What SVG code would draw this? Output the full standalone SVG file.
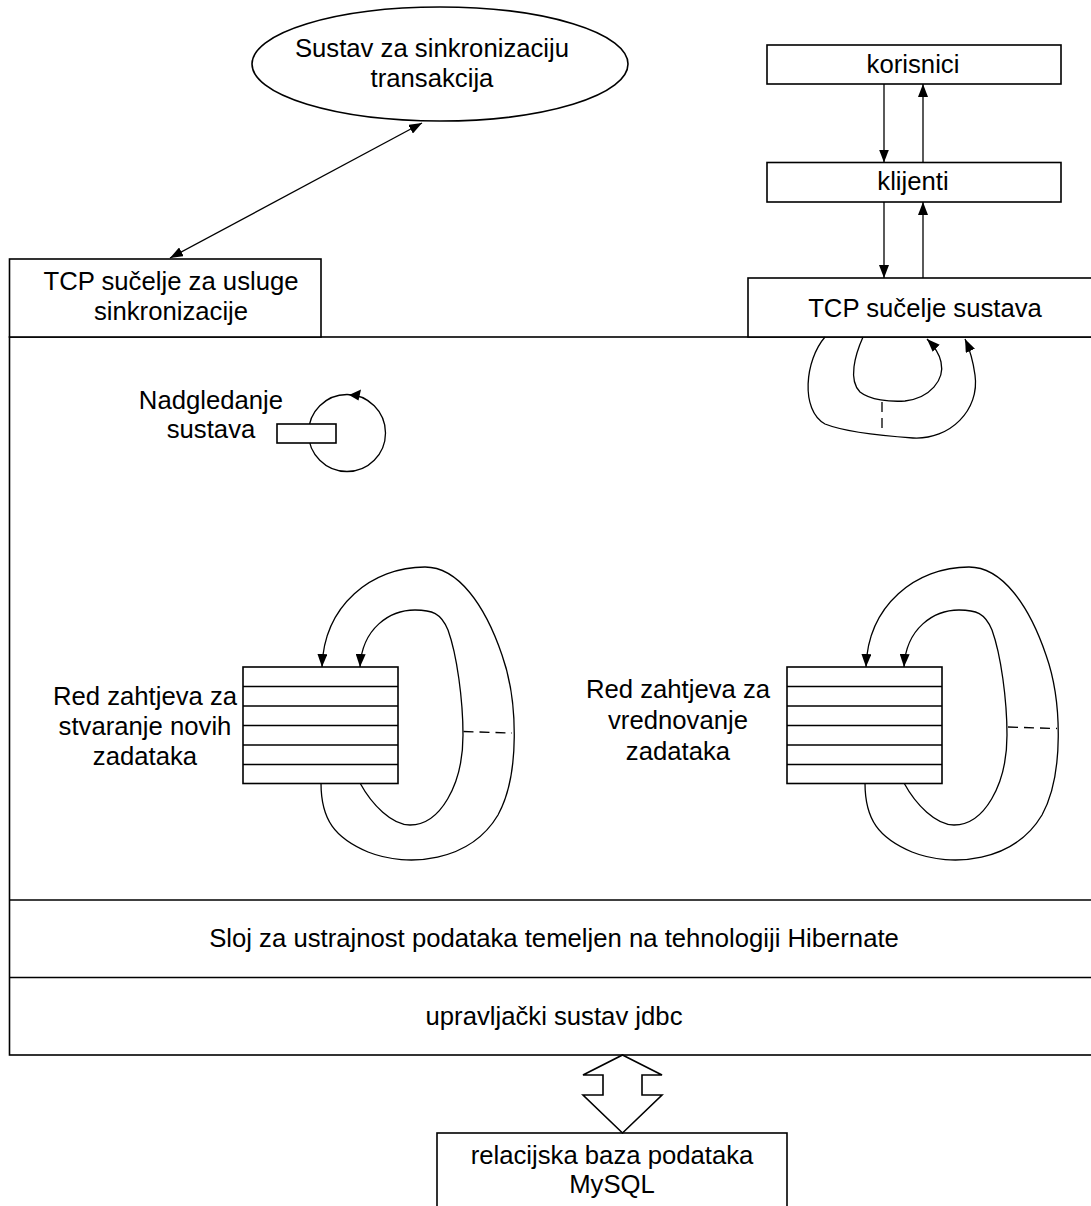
<svg xmlns="http://www.w3.org/2000/svg" width="1091" height="1206" viewBox="0 0 1091 1206">
  <style>
    .box { fill: #fff; stroke: #000; stroke-width: 1.6; }
    .ln { fill: none; stroke: #000; stroke-width: 1.3; }
    .dash { fill: none; stroke: #000; stroke-width: 1.3; stroke-dasharray: 10 6; }
    text { font-family: "Liberation Sans", Arial, sans-serif; font-size: 25.7px; fill: #000; text-anchor: middle; }
  </style>
  <defs>
    <marker id="ah" viewBox="0 0 13 10" refX="13" refY="5" markerWidth="13" markerHeight="10" markerUnits="userSpaceOnUse" orient="auto-start-reverse">
      <path d="M0,0 L13,5 L0,10 z" fill="#000"/>
    </marker>
  </defs>
  <rect width="1091" height="1206" fill="#fff"/>

  <!-- application frame with its three layers -->
  <g id="core">
    <rect class="box" x="9.5" y="337" width="1100" height="718"/>
    <line class="box" x1="9.5" y1="900" x2="1100" y2="900"/>
    <line class="box" x1="9.5" y1="977.5" x2="1100" y2="977.5"/>
  </g>
  <g id="hibernate">
    <text x="554" y="947">Sloj za ustrajnost podataka temeljen na tehnologiji Hibernate</text>
  </g>
  <g id="jdbc">
    <text x="554" y="1025">upravljački sustav jdbc</text>
  </g>

  <g id="sync-system">
    <ellipse class="box" cx="440" cy="64" rx="188" ry="57"/>
    <text x="432" y="57">Sustav za sinkronizaciju</text>
    <text x="432" y="87">transakcija</text>
  </g>

  <g id="tcp-sync">
    <rect class="box" x="9.5" y="259" width="311.5" height="78"/>
    <text x="171" y="290">TCP sučelje za usluge</text>
    <text x="171" y="320">sinkronizacije</text>
  </g>

  <g id="korisnici">
    <rect class="box" x="767" y="45" width="294" height="39"/>
    <text x="913" y="73">korisnici</text>
  </g>
  <g id="klijenti">
    <rect class="box" x="767" y="162.5" width="294" height="39.5"/>
    <text x="913" y="190">klijenti</text>
  </g>
  <g id="tcp-system">
    <rect class="box" x="748" y="278" width="360" height="59"/>
    <text x="925" y="317">TCP sučelje sustava</text>
  </g>

  <g id="monitor">
    <circle class="ln" cx="347" cy="433" r="38.5"/>
    <path d="M349,395 L361,389.5 L358.5,400.5 z" fill="#000"/>
    <rect class="box" x="277" y="424" width="59" height="19" stroke-width="1.3"/>
    <text x="211" y="409">Nadgledanje</text>
    <text x="211" y="438">sustava</text>
  </g>

  <!-- request queue for creating tasks -->
  <g id="queue-create">
    <path class="ln" marker-end="url(#ah)" d="M321,783 C321,820 335,838 368,852 C408,868 470,862 498,815 C520,775 518,700 502,655 C485,605 458,567 425,567 C372,567 324,605 322,667"/>
    <path class="ln" marker-end="url(#ah)" d="M360,783 C372,805 392,825 410,825 C440,825 463,785 463,735 C463,700 457,655 448,630 C441,613 432,610 415,610 C390,610 362,628 360,667"/>
    <line class="dash" x1="463.5" y1="731.5" x2="512" y2="733"/>
    <rect class="box" x="243" y="667" width="155" height="116.5" stroke-width="1.4"/>
    <g class="ln">
      <line x1="243" y1="686.5" x2="398" y2="686.5"/>
      <line x1="243" y1="706" x2="398" y2="706"/>
      <line x1="243" y1="725.5" x2="398" y2="725.5"/>
      <line x1="243" y1="745" x2="398" y2="745"/>
      <line x1="243" y1="764.5" x2="398" y2="764.5"/>
    </g>
    <text x="145" y="705">Red zahtjeva za</text>
    <text x="145" y="735">stvaranje novih</text>
    <text x="145" y="765">zadataka</text>
  </g>

  <!-- request queue for evaluating tasks -->
  <g id="queue-evaluate">
    <g transform="translate(544,0)">
      <path class="ln" marker-end="url(#ah)" d="M321,783 C321,820 335,838 368,852 C408,868 470,862 498,815 C520,775 518,700 502,655 C485,605 458,567 425,567 C372,567 324,605 322,667"/>
      <path class="ln" marker-end="url(#ah)" d="M360,783 C372,805 392,825 410,825 C440,825 463,785 463,735 C463,700 457,655 448,630 C441,613 432,610 415,610 C390,610 362,628 360,667"/>
      <rect class="box" x="243" y="667" width="155" height="116.5" stroke-width="1.4"/>
      <g class="ln">
        <line x1="243" y1="686.5" x2="398" y2="686.5"/>
        <line x1="243" y1="706" x2="398" y2="706"/>
        <line x1="243" y1="725.5" x2="398" y2="725.5"/>
        <line x1="243" y1="745" x2="398" y2="745"/>
        <line x1="243" y1="764.5" x2="398" y2="764.5"/>
      </g>
    </g>
    <line class="dash" x1="1008" y1="727" x2="1057" y2="728.5"/>
    <text x="678" y="698">Red zahtjeva za</text>
    <text x="678" y="729">vrednovanje</text>
    <text x="678" y="760">zadataka</text>
  </g>

  <g id="database">
    <rect class="box" x="437" y="1133" width="350" height="90"/>
    <text x="612" y="1164">relacijska baza podataka</text>
    <text x="612" y="1193">MySQL</text>
  </g>

  <!-- connectors -->
  <g id="connectors">
    <line class="ln" x1="170" y1="258" x2="422" y2="123" marker-start="url(#ah)" marker-end="url(#ah)"/>
    <line class="ln" x1="884" y1="84" x2="884" y2="162.5" marker-end="url(#ah)"/>
    <line class="ln" x1="923" y1="162.5" x2="923" y2="84" marker-end="url(#ah)"/>
    <line class="ln" x1="884" y1="202" x2="884" y2="278" marker-end="url(#ah)"/>
    <line class="ln" x1="923" y1="278" x2="923" y2="202" marker-end="url(#ah)"/>
    <!-- request loops under the system TCP interface -->
    <path class="ln" marker-end="url(#ah)" d="M825,337 C805,360 800,410 825,424 C845,432 885,436 913,438 C950,440 980,410 975,375 C973,360 970,350 965,339"/>
    <path class="ln" marker-end="url(#ah)" d="M863,337 C855,355 848,380 860,392 C870,400 890,402 905,401 C930,398 945,380 941,362 C939,352 933,345 927,339"/>
    <line class="dash" x1="882" y1="402" x2="882" y2="431"/>
    <!-- two-way transfer between jdbc and the database -->
    <path class="box" stroke-width="1.3" d="M622.5,1055 L662,1075 L642,1075 L642,1095 L662,1095 L622.5,1133 L583,1095 L603,1095 L603,1075 L583,1075 z"/>
  </g>
</svg>
